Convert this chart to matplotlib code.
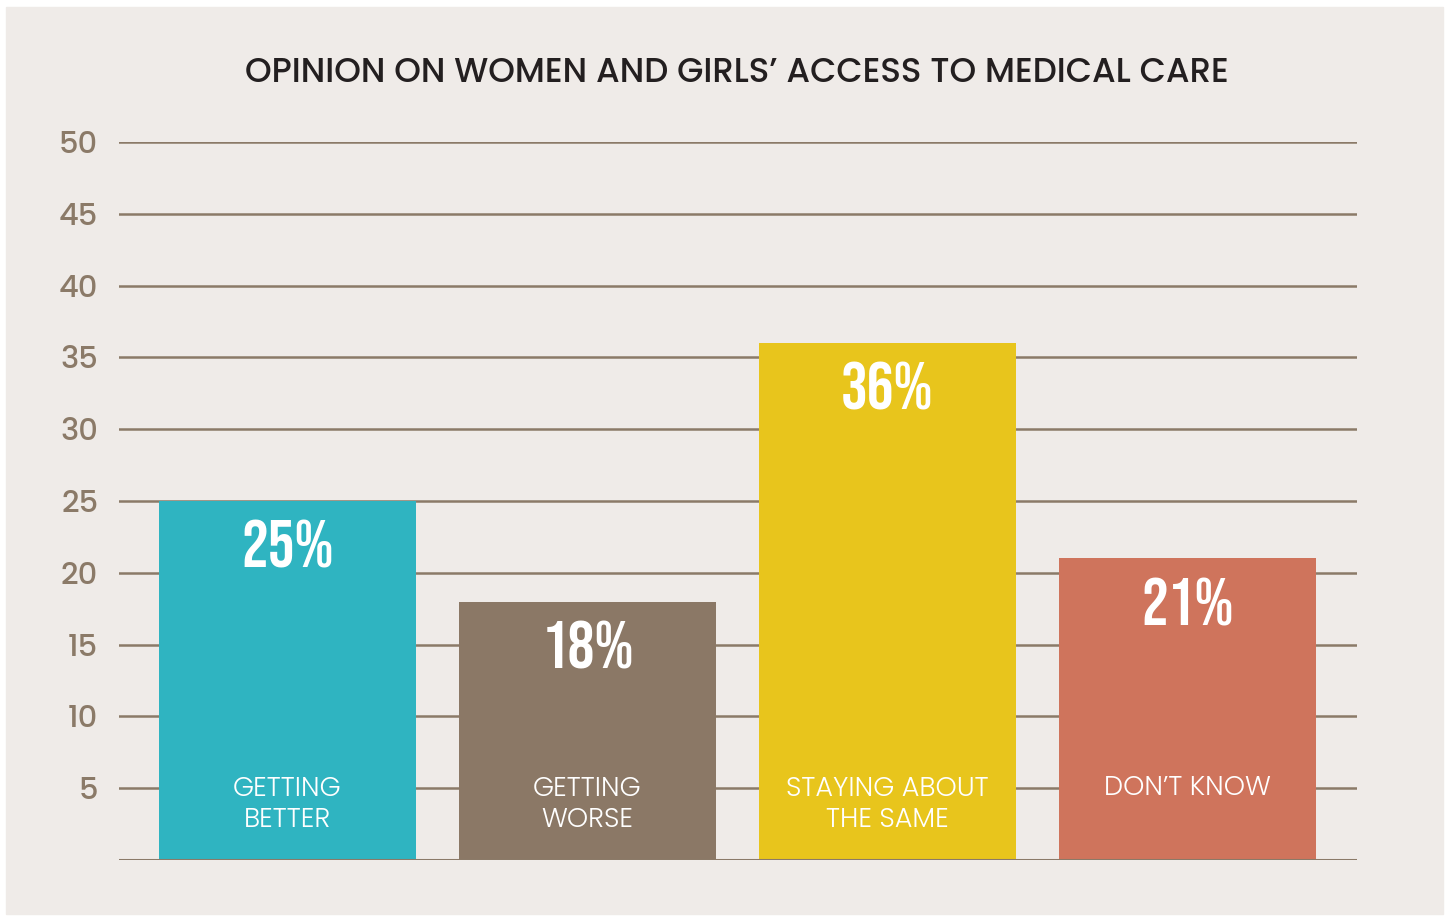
import matplotlib.pyplot as plt
from matplotlib.patches import Rectangle
from matplotlib import font_manager

categories = ["GETTING\nBETTER", "GETTING\nWORSE", "STAYING ABOUT\nTHE SAME", "DON\u2019T KNOW"]
values = [25, 18, 36, 21]
colors = ["#2FB4C1", "#8B7866", "#E8C51C", "#CF745C"]
y_ticks = [5, 10, 15, 20, 25, 30, 35, 40, 45, 50]

grid_color = "#8B7A68"
panel_color = "#EFEBE8"


def pick(fams, weight):
    # first family that ships an upright face of the wanted weight
    for fam in fams:
        weights = {f.weight for f in font_manager.fontManager.ttflist
                   if f.name == fam and f.style == "normal"}
        if weight in weights:
            return fam
    return "DejaVu Sans"


medium_font = pick(["Montserrat", "Poppins", "Lato", "Open Sans"], 500)
light_font = pick(["Montserrat", "Poppins", "Lato", "Open Sans"], 300)
pct_font = pick(["Bebas Neue", "Oswald"], 400)

fig = plt.figure(figsize=(14.47, 9.16), dpi=100, facecolor="white")
panel = Rectangle((6 / 1447, 2 / 916), 1437 / 1447, 907 / 916,
                  transform=fig.transFigure, color=panel_color, zorder=-10)
fig.add_artist(panel)

ax = fig.add_axes([119 / 1447, 56 / 916, 1238 / 1447, 718 / 916])
ax.set_facecolor("none")
ax.set_zorder(1)

x = range(len(values))
ax.bar(x, values, width=0.857, color=colors, zorder=2)

for t in y_ticks:
    ax.axhline(t, color=grid_color, lw=1.8, zorder=1)
ax.axhline(0, color=grid_color, lw=2.2, zorder=3)

ax.set_xlim(-0.5617, 3.565)
ax.set_ylim(0, 50)
ax.set_xticks([])
ax.set_yticks(y_ticks)
ax.set_yticklabels([str(t) for t in y_ticks], fontsize=22, color=grid_color,
                   family=medium_font, fontweight=500)
ax.tick_params(axis="y", length=0, pad=15)
for s in ax.spines.values():
    s.set_visible(False)

for i, (v, cat) in enumerate(zip(values, categories)):
    ax.annotate(f"{v}%", (i, v), xytext=(0, -48), textcoords="offset points",
                ha="center", va="baseline", color="white", fontsize=48,
                family=pct_font, zorder=4)
    one_line = "\n" not in cat
    ax.text(i, 4.95 if one_line else 3.85, cat, ha="center", va="center",
            color="white", fontsize=19.5, family=light_font, fontweight=300,
            linespacing=1.22, zorder=4)

fig.text(737 / 1447, 1 - 74 / 916, "OPINION ON WOMEN AND GIRLS\u2019 ACCESS TO MEDICAL CARE",
         ha="center", va="center", fontsize=24.5, color="#231F20",
         family=medium_font, fontweight=500)

fig.savefig("out.png", dpi=100, facecolor="white")
